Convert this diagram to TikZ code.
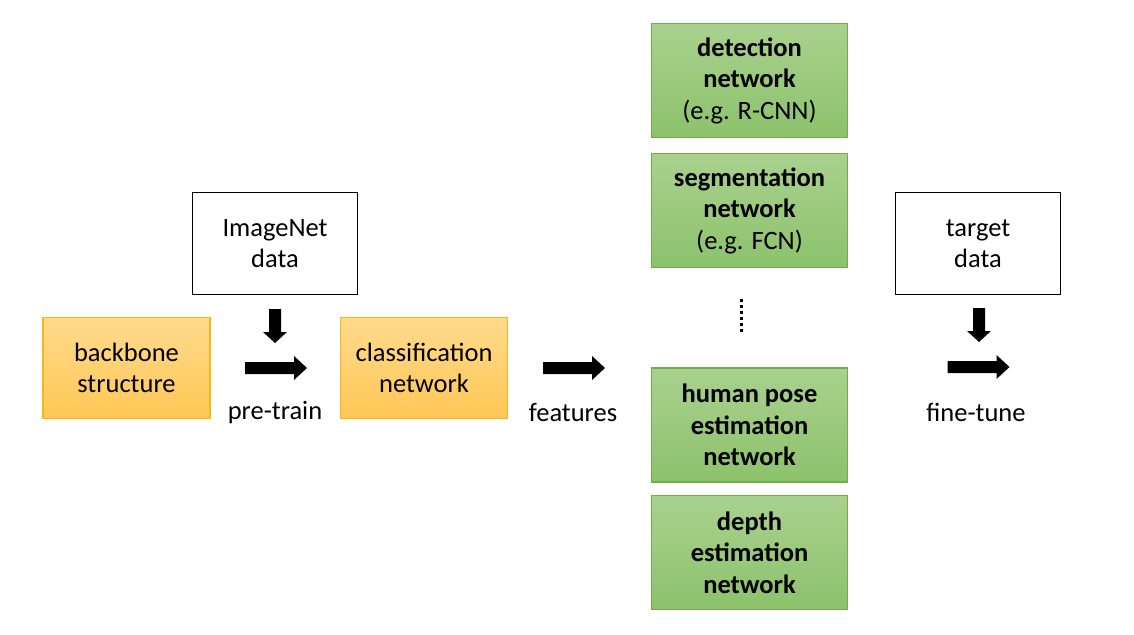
\documentclass[tikz,border=0pt]{standalone}
\usepackage{fontspec}
\setmainfont{Carlito}
\definecolor{orTop}{RGB}{255,218,140}
\definecolor{orBot}{RGB}{255,199,86}
\definecolor{orLine}{RGB}{245,184,20}
\definecolor{grTop}{RGB}{169,209,142}
\definecolor{grBot}{RGB}{140,194,108}
\definecolor{grLine}{RGB}{112,173,71}
\begin{document}
\begin{tikzpicture}[x=1pt,y=-1pt,
  txt/.style={font=\fontsize{26.5}{31.5}\selectfont, align=center, inner sep=0pt},
  orbox/.style={txt, draw=orLine, line width=1.5pt, top color=orTop, bottom color=orBot, minimum width=167pt, minimum height=101pt},
  wbox/.style={txt, draw=black, line width=1.3pt, fill=white, minimum width=165pt, minimum height=102pt},
  grbox/.style={txt, font=\fontsize{26.5}{31.5}\selectfont\bfseries, draw=grLine, line width=1.3pt, top color=grTop, bottom color=grBot, minimum width=196pt, minimum height=114pt},
  lbl/.style={txt},
  rarr/.pic={\fill (-31,-6) -- (18,-6) -- (18,-12) -- (31,0) -- (18,12) -- (18,6) -- (-31,6) -- cycle;},
  darr/.pic={\fill (-6,-17) -- (6,-17) -- (6,6) -- (12,6) -- (0,17) -- (-12,6) -- (-6,6) -- cycle;}
]
\useasboundingbox (0,0) rectangle (1134,634);

\node[orbox] (backbone) at (126.5,368) {backbone\\structure};
\node[wbox] (imagenet) at (275,243.5) {ImageNet\\data};
\node[orbox] (classif) at (424,368) {classification\\network};
\node[grbox] (detect) at (749.5,80.5) {detection\\network\\\mdseries(e.g. R-CNN)};
\node[grbox] (segm) at (749.5,210.5) {segmentation\\network\\\mdseries(e.g. FCN)};
\node[grbox] (pose) at (749.5,425) {human pose\\estimation\\network};
\node[grbox] (depth) at (749.5,552.5) {depth\\estimation\\network};
\node[wbox] (target) at (978,243.5) {target\\data};

\node[lbl] (pretrain) at (275,412.5) {pre-train};
\node[lbl] (features) at (573,412.5) {features};
\node[lbl] (finetune) at (976,412.5) {fine-tune};

\pic at (275,326) {darr};
\pic at (276,368) {rarr};
\pic at (574,368) {rarr};
\pic at (979,325) {darr};
\pic at (978.5,367) {rarr};

\draw[line width=3pt, dash pattern=on 3pt off 3pt] (741,299) -- (741,334);
\end{tikzpicture}
\end{document}
